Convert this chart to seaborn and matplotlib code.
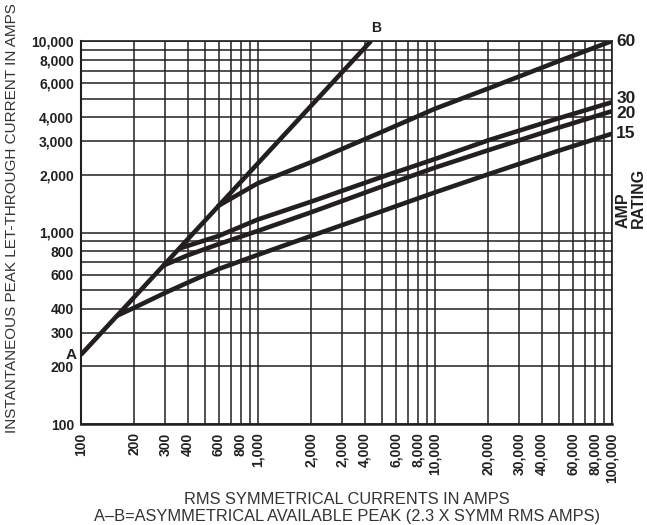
import numpy as np
import matplotlib
matplotlib.use("Agg")
import matplotlib.pyplot as plt
from matplotlib.ticker import FixedLocator, NullFormatter, LogLocator
import seaborn as sns

# ---- data (RMS symmetrical amps -> peak let-through amps)
ab_x = [100, 4348]
ab_y = [230, 10000]

amp60_x = [590, 1000, 2000, 5000, 10000, 20000, 50000, 100000]
amp60_y = [1370, 1810, 2330, 3350, 4430, 5650, 7850, 10000]

amp30_x = [360, 600, 1000, 2000, 5000, 10000, 20000, 50000, 100000]
amp30_y = [825, 960, 1170, 1450, 1950, 2420, 3030, 3950, 4790]

amp20_x = [292, 400, 600, 1000, 2000, 5000, 10000, 20000, 50000, 100000]
amp20_y = [672, 760, 870, 1020, 1276, 1737, 2182, 2690, 3530, 4300]

amp15_x = [160, 200, 300, 400, 600, 1000, 2000, 5000, 10000, 20000, 50000, 100000]
amp15_y = [368, 405, 485, 547, 645, 765, 960, 1291, 1620, 2014, 2674, 3280]

ratings = ["60", "30", "20", "15"]

x_ticks = [100, 200, 300, 400, 600, 800, 1000, 2000, 3000, 4000, 6000, 8000,
           10000, 20000, 30000, 40000, 60000, 80000, 100000]
# the original chart prints "2,000" twice (at 2,000 and 3,000)
x_labels = ["100", "200", "300", "400", "600", "800", "1,000", "2,000", "2,000",
            "4,000", "6,000", "8,000", "10,000", "20,000", "30,000", "40,000",
            "60,000", "80,000", "100,000"]
y_ticks = [100, 200, 300, 400, 600, 800, 1000, 2000, 3000, 4000, 6000, 8000, 10000]
y_labels = ["100", "200", "300", "400", "600", "800", "1,000", "2,000", "3,000",
            "4,000", "6,000", "8,000", "10,000"]

sns.set_style("white")
plt.rcParams["font.family"] = ["Liberation Sans", "DejaVu Sans"]

ink = "#231f20"

fig = plt.figure(figsize=(6.47, 5.25), dpi=100)
ax = fig.add_axes([81 / 647, 1 - 424 / 525, (612 - 81) / 647, (424 - 41) / 525])

ax.set_xscale("log")
ax.set_yscale("log")
ax.set_xlim(100, 100000)
ax.set_ylim(100, 10000)

# grid on every 1..9 step of each decade
ax.xaxis.set_minor_locator(LogLocator(base=10, subs=np.arange(1, 10)))
ax.yaxis.set_minor_locator(LogLocator(base=10, subs=np.arange(1, 10)))
ax.xaxis.set_minor_formatter(NullFormatter())
ax.yaxis.set_minor_formatter(NullFormatter())
ax.grid(True, which="both", color=ink, lw=1.1)
ax.set_axisbelow(True)

lw = 3.3
sns.lineplot(x=ab_x, y=ab_y, ax=ax, color=ink, lw=lw, sort=False, solid_capstyle="butt")
for xs, ys in [(amp60_x, amp60_y), (amp30_x, amp30_y), (amp20_x, amp20_y), (amp15_x, amp15_y)]:
    sns.lineplot(x=xs, y=ys, ax=ax, color=ink, lw=lw, sort=False, solid_capstyle="butt")

ax.xaxis.set_major_locator(FixedLocator(x_ticks))
ax.yaxis.set_major_locator(FixedLocator(y_ticks))
ax.set_xticklabels(x_labels, rotation=90, fontweight="bold", fontsize=10, color=ink)
ax.set_yticklabels(y_labels, fontweight="bold", fontsize=10, color=ink)
ax.tick_params(axis="x", which="both", length=0, pad=6)
ax.tick_params(axis="y", which="both", length=0, pad=5)

for s in ax.spines.values():
    s.set_visible(True)
    s.set_color(ink)
    s.set_linewidth(1.2)
ax.spines["bottom"].set_linewidth(1.8)
ax.spines["left"].set_linewidth(1.5)

# right-hand amp rating labels
ends = [amp60_y[-1], amp30_y[-1], amp20_y[-1], amp15_y[-1]]
nudges = [0, 3, -2, 0]
for lab, yv, dy in zip(ratings, ends, nudges):
    ax.annotate(lab, xy=(100000, yv), xytext=(3, dy), textcoords="offset points",
                ha="left", va="center", fontweight="bold",
                fontsize=12.5, color=ink, annotation_clip=False)
fig.text(631 / 647, 1 - 198 / 525, "AMP\nRATING", rotation=90, ha="center", va="center",
         multialignment="left", fontweight="bold", fontsize=11.5, color=ink,
         linespacing=1.0)

# A and B end markers
ax.annotate("A", xy=(100, 230), xytext=(-3, 0), textcoords="offset points",
            ha="right", va="center", fontweight="heavy", fontsize=11, color=ink,
            annotation_clip=False)
ax.annotate("B", xy=(4348, 10000), xytext=(4, 9), textcoords="offset points",
            ha="center", va="center", fontweight="heavy", fontsize=10, color=ink,
            annotation_clip=False)

fig.text(347 / 647, 1 - 499 / 525, "RMS SYMMETRICAL CURRENTS IN AMPS",
         ha="center", va="center", fontsize=11.8, color="#333333")
fig.text(347 / 647, 1 - 516 / 525,
         "A\u2013B=ASYMMETRICAL AVAILABLE PEAK (2.3 X SYMM RMS AMPS)",
         ha="center", va="center", fontsize=11.8, color="#333333")
fig.text(12 / 647, 1 - 218 / 525, "INSTANTANEOUS PEAK LET-THROUGH CURRENT IN AMPS",
         rotation=90, ha="center", va="center", fontsize=11, color="#333333")

fig.savefig("out.png", dpi=100)
